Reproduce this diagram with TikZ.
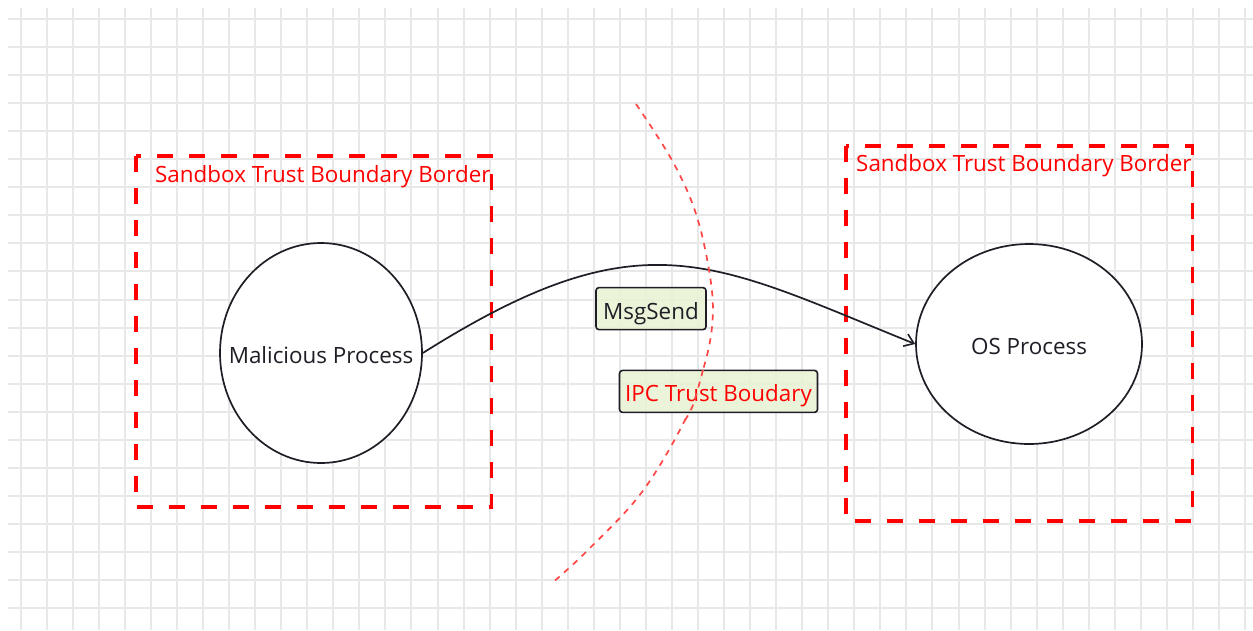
\documentclass[tikz,border=0pt]{standalone}
\usepackage{fontspec}
\setmainfont{Open Sans}
\usetikzlibrary{arrows.meta,shapes.geometric}
\definecolor{gridgray}{RGB}{232,232,232}
\definecolor{boundred}{RGB}{255,0,0}
\definecolor{arcred}{RGB}{255,70,70}
\definecolor{tagfill}{RGB}{233,243,212}
\definecolor{inkdark}{RGB}{30,30,38}
\tikzset{
  gridline/.style={draw=gridgray, line width=2pt},
  sandbox/.style={draw=boundred, line width=3.3pt, dash pattern=on 16pt off 16pt},
  sandboxlabel/.style={text=boundred, anchor=west, inner sep=0pt, font=\fontsize{22.4}{26}\selectfont},
  process/.style={ellipse, draw=inkdark, line width=1.7pt, fill=white, inner sep=0pt},
  proclabel/.style={text=inkdark, font=\fontsize{22.4}{26}\selectfont, inner sep=0pt,
    text height=20pt, text depth=0pt},
  tag/.style={draw=inkdark, line width=1.6pt, rounded corners=3pt, fill=tagfill, fill opacity=0.9,
    text opacity=1, inner sep=0pt, text height=21pt, text depth=0pt,
    font=\fontsize{22.4}{26}\selectfont},
  ipcarc/.style={draw=arcred, line width=1.7pt, dash pattern=on 6pt off 6pt},
  flow/.style={draw=inkdark, line width=1.7pt, -{Straight Barb[length=9pt,width=13pt,line width=1.6pt]}}
}
\begin{document}
\begin{tikzpicture}[x=1pt,y=-1pt]
\useasboundingbox (0,0) rectangle (1253,630);
\fill[white] (0,0) rectangle (1253,630);

% background grid
\foreach \k in {0,...,47} \draw[gridline] ({20.7+26.05*\k},8) -- ({20.7+26.05*\k},630);
\foreach \k in {0,...,21} \draw[gridline] (8,{19+28.05*\k}) -- (1253,{19+28.05*\k});

% sandbox borders
\draw[sandbox] (136,156) rectangle (491.5,507);
\draw[sandbox] (846,146) rectangle (1192.5,521);
\node[sandboxlabel] (lbl1) at (155,177) {Sandbox Trust Boundary Border};
\node[sandboxlabel] (lbl2) at (856,166) {Sandbox Trust Boundary Border};

% processes
\node[process, minimum width=202pt, minimum height=220pt,
  label={[proclabel]center:Malicious Process}] (mal) at (321,353) {};
\node[process, minimum width=226pt, minimum height=200pt,
  label={[proclabel]center:OS Process}] (os) at (1029,344) {};

% message flow
\draw[flow] (mal.east) .. controls (643,214) and (712,262) .. (os.west);
\node[tag, minimum width=110pt, minimum height=42pt, text=inkdark] (msg) at (651,308.6) {MsgSend};

% IPC trust boundary
\draw[ipcarc] plot[smooth, tension=0.6] coordinates {(636,104) (673,162) (697,217) (711,283) (712,327) (703,370) (685,420) (642,492) (588,550) (551,584)};
\node[tag, minimum width=198pt, minimum height=42pt, text=boundred] (ipc) at (718.5,391.4) {IPC Trust Boudary};
\draw[ipcarc] plot[smooth, tension=0.6] coordinates {(703,370) (693,405) (685,420)};
\end{tikzpicture}
\end{document}
